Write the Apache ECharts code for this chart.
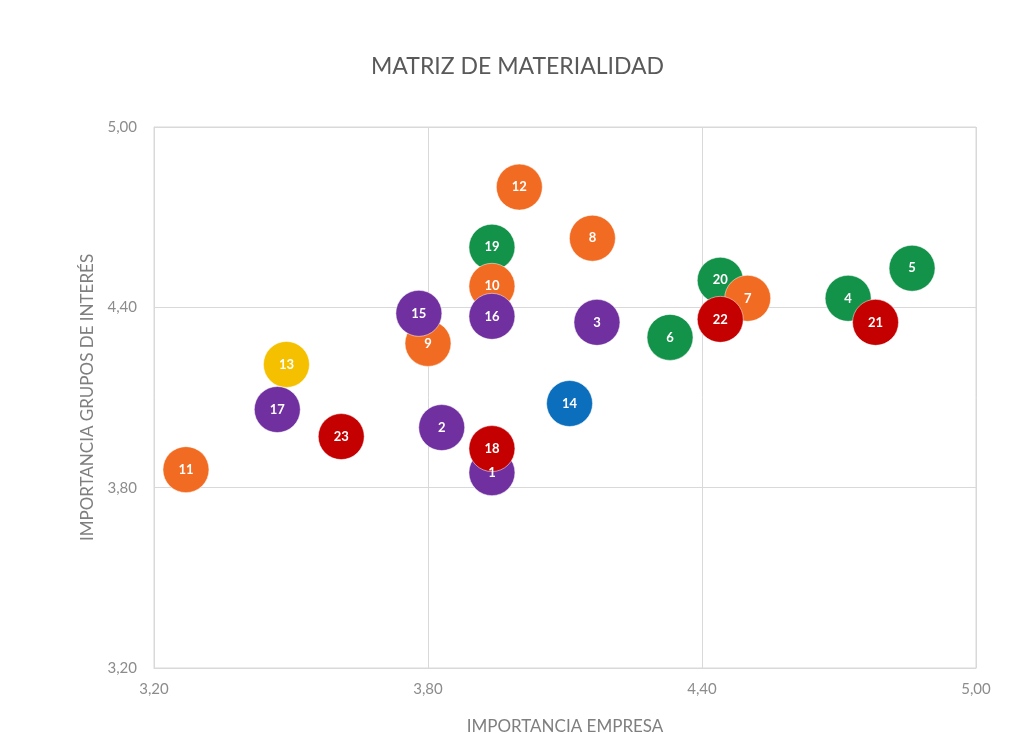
<!DOCTYPE html>
<html>
<head>
<meta charset="utf-8">
<title>Matriz de materialidad</title>
<script src="https://cdn.jsdelivr.net/npm/echarts@6/dist/echarts.min.js"></script>
<style>
  html, body { margin: 0; padding: 0; background: #ffffff; }
  #chart { width: 1016px; height: 733px; }
</style>
</head>
<body>
<div id="chart"></div>
<script>
// Material topics: number, company importance (x), stakeholder importance (y), colour group
const temas = ['1','2','3','4','5','6','7','8','9','10','11','12','13','14','15','16','17','18','19','20','21','22','23'];
const importanciaEmpresa = [3.94, 3.83, 4.17, 4.72, 4.86, 4.33, 4.50, 4.16, 3.80, 3.94, 3.27, 4.00, 3.49, 4.11, 3.78, 3.94, 3.47, 3.94, 3.94, 4.44, 4.78, 4.44, 3.61];
const importanciaGrupos  = [3.85, 4.00, 4.35, 4.43, 4.53, 4.30, 4.43, 4.63, 4.28, 4.47, 3.86, 4.80, 4.21, 4.08, 4.38, 4.37, 4.06, 3.93, 4.60, 4.49, 4.35, 4.36, 3.97];
const grupoTema = ['morado','morado','morado','verde','verde','verde','naranja','naranja','naranja','naranja','naranja','naranja','amarillo','azul','morado','morado','morado','rojo','verde','verde','rojo','rojo','rojo'];

// Drawing order of the colour groups (later groups sit on top)
const grupos = ['verde', 'naranja', 'amarillo', 'azul', 'morado', 'rojo'];
const coloresGrupo = {
  verde: '#13924A',
  naranja: '#F26B22',
  amarillo: '#F4C000',
  azul: '#0B6FBE',
  morado: '#7030A0',
  rojo: '#C50000'
};

// Axis ticks
const ticksEje = [3.20, 3.80, 4.40, 5.00];

const fmt = v => v.toFixed(2).replace('.', ',');
const fuente = 'Lato, "Open Sans", sans-serif';

const series = grupos.map(g => ({
  type: 'scatter',
  name: g,
  symbol: 'circle',
  symbolSize: 46,
  itemStyle: { color: coloresGrupo[g], opacity: 1, borderColor: 'rgba(255,255,255,0.5)', borderWidth: 1 },
  label: {
    show: true,
    position: 'inside',
    formatter: p => p.name,
    color: '#ffffff',
    fontWeight: 'bold',
    fontSize: 13,
    fontFamily: fuente
  },
  emphasis: { disabled: true },
  data: temas
    .map((t, i) => ({ name: t, value: [importanciaEmpresa[i], importanciaGrupos[i]], g: grupoTema[i] }))
    .filter(d => d.g === g)
    .map(d => ({ name: d.name, value: d.value }))
}));

const axisCommon = {
  type: 'value',
  min: ticksEje[0],
  max: ticksEje[ticksEje.length - 1],
  interval: 0.6,
  axisLine: { show: true, lineStyle: { color: '#d9d9d9', width: 1 } },
  axisTick: { show: false },
  splitLine: { show: true, lineStyle: { color: '#d9d9d9', width: 1 } },
  axisLabel: {
    formatter: fmt,
    color: '#8c8c8c',
    fontSize: 15,
    fontFamily: fuente
  },
  nameLocation: 'middle',
  nameTextStyle: {
    color: '#7f7f7f',
    fontSize: 17,
    fontFamily: fuente
  }
};

const chart = echarts.init(document.getElementById('chart'), null, { renderer: 'canvas' });
chart.setOption({
  backgroundColor: '#ffffff',
  animation: false,
  title: {
    text: 'MATRIZ DE MATERIALIDAD',
    left: 366,
    top: 50,
    textStyle: {
      color: '#595959',
      fontSize: 23,
      fontWeight: 'normal',
      fontFamily: fuente
    }
  },
  grid: {
    left: 154, right: 40, top: 127, bottom: 65,
    outerBoundsMode: 'none',
    show: true, borderColor: '#d9d9d9', borderWidth: 1, containLabel: false
  },
  xAxis: Object.assign({}, axisCommon, {
    name: 'IMPORTANCIA EMPRESA',
    nameGap: 50,
    axisLabel: Object.assign({}, axisCommon.axisLabel, { margin: 14 })
  }),
  yAxis: Object.assign({}, axisCommon, {
    name: 'IMPORTANCIA GRUPOS DE INTERÉS',
    nameGap: 58,
    axisLabel: Object.assign({}, axisCommon.axisLabel, { margin: 17 })
  }),
  series: series
});
</script>
</body>
</html>
